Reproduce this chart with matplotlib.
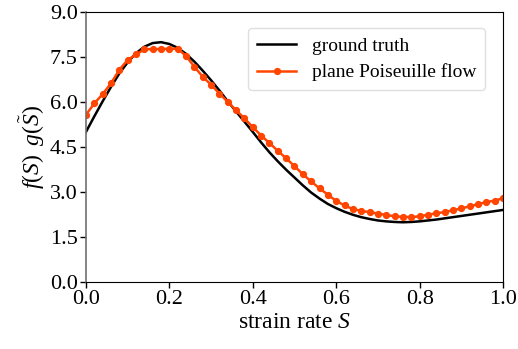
import numpy as np
import matplotlib
matplotlib.use("Agg")
import matplotlib.pyplot as plt

plt.rcParams["font.family"] = ["Liberation Serif", "DejaVu Serif"]
plt.rcParams["mathtext.fontset"] = "custom"
plt.rcParams["mathtext.rm"] = "Liberation Serif"
plt.rcParams["mathtext.it"] = "Liberation Serif:italic"

# strain rate grid (step 0.02)
strain = [i / 50 for i in range(51)]

ground_truth = [
    5.00, 5.52, 6.02, 6.50, 6.95, 7.32, 7.62, 7.84, 7.96, 7.99,
    7.93, 7.80, 7.60, 7.34, 7.04, 6.72, 6.38, 6.02, 5.68, 5.34,
    5.00, 4.65, 4.32, 4.02, 3.74, 3.48, 3.22, 2.98, 2.78, 2.60,
    2.46, 2.34, 2.24, 2.16, 2.10, 2.05, 2.02, 2.00, 1.99, 2.00,
    2.02, 2.05, 2.08, 2.12, 2.16, 2.20, 2.24, 2.28, 2.32, 2.36,
    2.40,
]

poiseuille = [
    5.57, 5.95, 6.26, 6.62, 7.07, 7.40, 7.58, 7.75, 7.76, 7.76,
    7.77, 7.77, 7.53, 7.17, 6.84, 6.57, 6.28, 6.00, 5.72, 5.45,
    5.16, 4.88, 4.63, 4.37, 4.12, 3.86, 3.59, 3.35, 3.12, 2.91,
    2.70, 2.55, 2.43, 2.37, 2.33, 2.28, 2.23, 2.19, 2.17, 2.16,
    2.19, 2.24, 2.29, 2.33, 2.39, 2.45, 2.52, 2.59, 2.66, 2.71,
    2.79,
]

fig = plt.figure(figsize=(5.18, 3.49), dpi=100)
ax = fig.add_axes([0.166, 0.192, 0.805, 0.774])

ax.plot(strain, ground_truth, color="black", lw=1.8, label="ground truth")
ax.plot(strain, poiseuille, color="#ff4500", lw=1.8, marker="o", ms=4.2,
        label="plane Poiseuille flow")

ax.set_xlim(0, 1)
ax.set_ylim(0, 9)
ax.set_xticks([0.0, 0.2, 0.4, 0.6, 0.8, 1.0])
ax.set_yticks([0.0, 1.5, 3.0, 4.5, 6.0, 7.5, 9.0])
ax.set_xticklabels(["0.0", "0.2", "0.4", "0.6", "0.8", "1.0"])
ax.set_yticklabels(["0.0", "1.5", "3.0", "4.5", "6.0", "7.5", "9.0"])
ax.tick_params(labelsize=16, length=4, width=1, pad=2)
ax.spines["left"].set_color("#707070")
ax.spines["left"].set_linewidth(1.2)

ax.set_xlabel(r"strain rate $S$", fontsize=17, labelpad=2)
ax.set_ylabel(r"$f(S)\;\;g(\tilde{S})$", fontsize=17, labelpad=2)

ax.legend(loc="upper right", fontsize=14, frameon=True, fancybox=True,
          edgecolor="#d8d8d8", handlelength=2.0, borderpad=0.45,
          labelspacing=0.45, bbox_to_anchor=(0.98, 0.975))

fig.savefig("out.png", dpi=100)
